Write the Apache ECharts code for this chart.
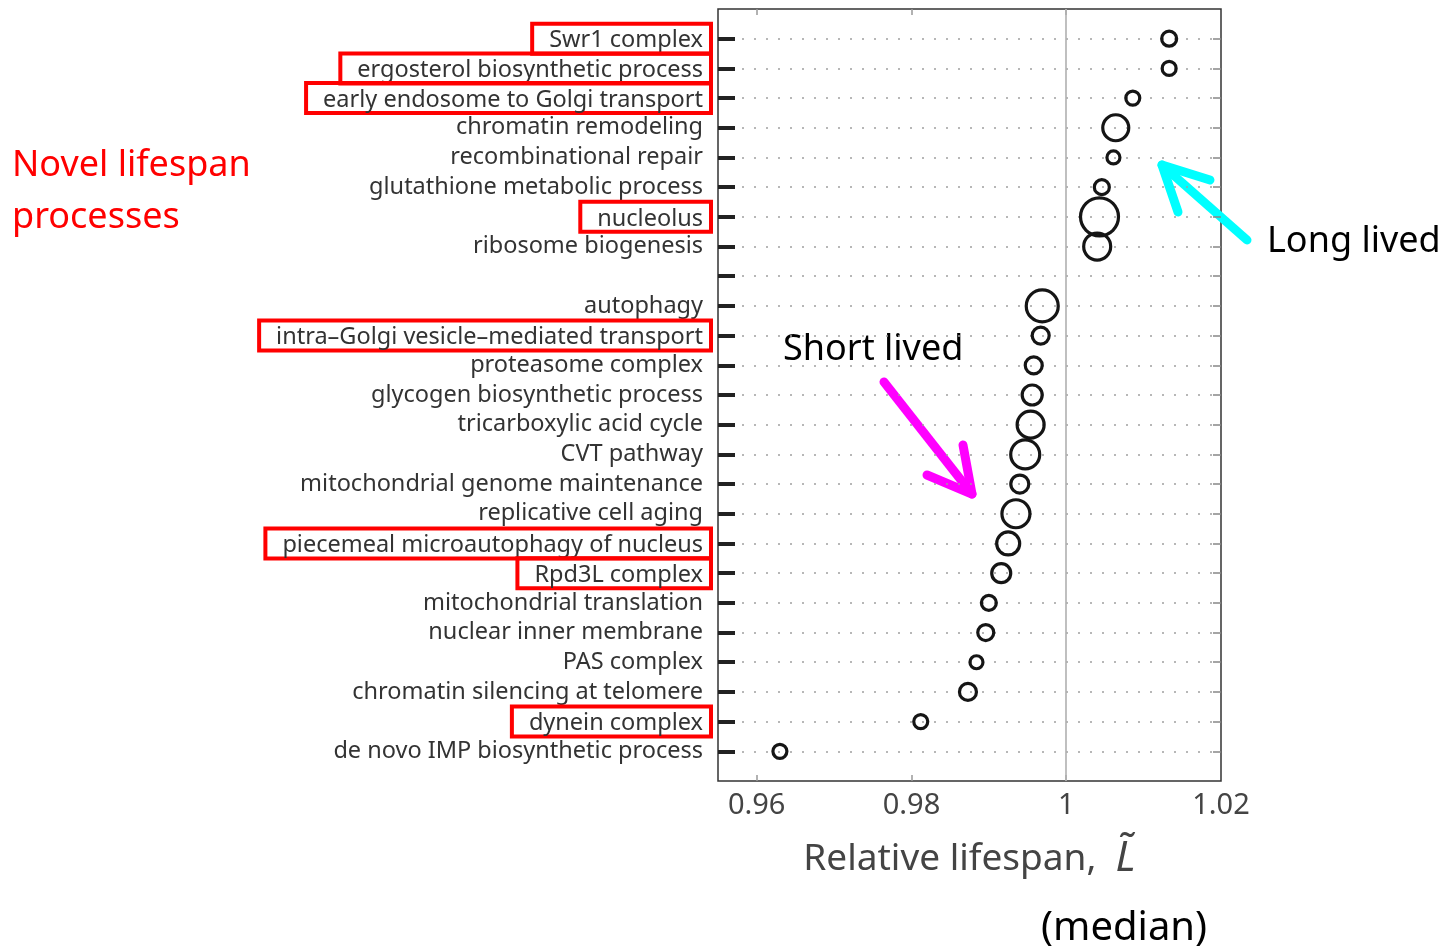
<!DOCTYPE html>
<html>
<head>
<meta charset="utf-8">
<script src="https://cdn.jsdelivr.net/npm/echarts@6/dist/echarts.min.js"></script>
<style>
html,body{margin:0;padding:0;background:#fff;}
#chart{width:1445px;height:948px;}
</style>
</head>
<body>
<div id="chart"></div>
<script>
// ---- data ----
var categories = [
  'Swr1 complex',
  'ergosterol biosynthetic process',
  'early endosome to Golgi transport',
  'chromatin remodeling',
  'recombinational repair',
  'glutathione metabolic process',
  'nucleolus',
  'ribosome biogenesis',
  'autophagy',
  'intra\u2013Golgi vesicle\u2013mediated transport',
  'proteasome complex',
  'glycogen biosynthetic process',
  'tricarboxylic acid cycle',
  'CVT pathway',
  'mitochondrial genome maintenance',
  'replicative cell aging',
  'piecemeal microautophagy of nucleus',
  'Rpd3L complex',
  'mitochondrial translation',
  'nuclear inner membrane',
  'PAS complex',
  'chromatin silencing at telomere',
  'dynein complex',
  'de novo IMP biosynthetic process'
];
// relative lifespan (median)
var lifespan = [
  1.0133, 1.0133, 1.0086, 1.0064, 1.0061, 1.0046, 1.0043, 1.0040,
  0.9969, 0.9967, 0.9958, 0.9956, 0.9954, 0.9947, 0.9940, 0.9935,
  0.9925, 0.9916, 0.9900, 0.9896, 0.9884, 0.9873, 0.9812, 0.9630
];
// bubble magnitude (marker diameter)
var bubbleSize = [
  15, 14, 14, 26, 13, 15, 38, 27,
  32, 17, 17, 20, 27, 29, 18, 28,
  23, 19, 15, 16, 13, 17, 14, 14
];
var groupA = 8; // long-lived group count (first 8), then a gap row
var novel = ['Swr1 complex','ergosterol biosynthetic process','early endosome to Golgi transport',
  'nucleolus','intra\u2013Golgi vesicle\u2013mediated transport','piecemeal microautophagy of nucleus',
  'Rpd3L complex','dynein complex'];
var xTicks = [0.96, 0.98, 1, 1.02];

// ---- build axis categories: blank at top, gap, blank at bottom ----
var axisCats = [''];
for (var i = 0; i < categories.length; i++) {
  if (i === groupA) axisCats.push(' ');
  axisCats.push(categories[i]);
}
axisCats.push('  ');
var lastIdx = axisCats.length - 1;

var scatterData = categories.map(function (c, i) {
  return [lifespan[i], c, bubbleSize[i]];
});

var FONT = '"Noto Sans", "Open Sans", sans-serif';
var chart = echarts.init(document.getElementById('chart'), null, {renderer: 'canvas'});

function arrow(points, head, color) {
  return [
    {type: 'polyline', shape: {points: points}, style: {stroke: color, lineWidth: 9, lineCap: 'round', lineJoin: 'round', fill: null}, silent: true},
    {type: 'polyline', shape: {points: head}, style: {stroke: color, lineWidth: 9, lineCap: 'round', lineJoin: 'round', fill: null}, silent: true}
  ];
}

var option = {
  animation: false,
  backgroundColor: '#fff',
  grid: {
    left: 718, top: 9, right: 224, bottom: 167,
    show: true, borderColor: '#333', borderWidth: 1.5,
    containLabel: false, outerBoundsMode: 'none'
  },
  xAxis: [{
    type: 'value', position: 'bottom',
    min: 0.955, max: 1.02,
    axisLine: {show: false},
    splitLine: {show: false},
    axisTick: {show: true, inside: true, length: 6, customValues: [0.96, 0.98, 1], lineStyle: {color: '#999', width: 1.5}},
    axisLabel: {show: true, customValues: xTicks, margin: 10, fontSize: 29, color: '#444', fontFamily: FONT,
      formatter: function (v) { return String(+v.toFixed(2)); }},
    name: 'Relative lifespan,  {i|L\u0303}',
    nameLocation: 'middle', nameGap: 57,
    nameTextStyle: {fontSize: 37, color: '#444', fontFamily: FONT,
      rich: {i: {fontSize: 42, fontStyle: 'italic', color: '#444', fontFamily: FONT}}}
  }, {
    type: 'value', position: 'top',
    min: 0.955, max: 1.02,
    axisLine: {show: false}, splitLine: {show: false},
    axisTick: {show: true, inside: true, length: 6, customValues: [0.96, 0.98, 1], lineStyle: {color: '#999', width: 1.5}},
    axisLabel: {show: false}
  }],
  yAxis: [{
    type: 'category', inverse: true, boundaryGap: false,
    data: axisCats, position: 'left',
    axisLine: {show: false},
    axisTick: {show: true, inside: true, length: 17, interval: function (i) { return i > 0 && i < lastIdx; },
      lineStyle: {color: '#222', width: 4}},
    splitLine: {show: true, interval: function (i) { return i > 0 && i < lastIdx; },
      lineStyle: {color: '#a0a0a0', width: 1.6, type: [2, 10]}},
    axisLabel: {
      interval: 0, margin: 7,
      formatter: function (v) {
        if (!v.trim()) return '';
        return (novel.indexOf(v) >= 0 ? '{b|' : '{p|') + v + '}';
      },
      rich: {
        p: {fontSize: 23.5, color: '#333', fontFamily: FONT, lineHeight: 24, padding: [0, 8, 0, 0]},
        b: {fontSize: 23.5, color: '#333', fontFamily: FONT, lineHeight: 24, padding: [5, 8, 1, 17],
            borderColor: '#ff0000', borderWidth: 4}
      }
    }
  }, {
    type: 'category', inverse: true, boundaryGap: false,
    data: axisCats, position: 'right',
    axisLine: {show: false},
    axisTick: {show: true, inside: true, length: 8, interval: function (i) { return i > 0 && i < lastIdx; },
      lineStyle: {color: '#888', width: 1.5}},
    splitLine: {show: false},
    axisLabel: {show: false}
  }],
  series: [{
    type: 'scatter',
    xAxisIndex: 0, yAxisIndex: 0,
    data: scatterData,
    symbol: 'circle',
    symbolSize: function (d) { return d[2]; },
    itemStyle: {color: 'rgba(0,0,0,0)', borderColor: '#151515', borderWidth: 3.2, opacity: 1},
    silent: true,
    markLine: {
      silent: true, symbol: 'none',
      label: {show: false},
      lineStyle: {color: '#b0b0b0', width: 1.6, type: 'solid'},
      data: [{xAxis: 1}]
    },
    z: 5
  }],
  graphic: [
    {type: 'text', left: 12, top: 148, style: {text: 'Novel lifespan', fill: '#ff0000', font: '36px ' + FONT}},
    {type: 'text', left: 12, top: 200, style: {text: 'processes', fill: '#ff0000', font: '36px ' + FONT}},
    {type: 'text', left: 1267, top: 224, style: {text: 'Long lived', fill: '#000', font: '36px ' + FONT}},
    {type: 'text', left: 783, top: 332, style: {text: 'Short lived', fill: '#000', font: '36px ' + FONT}},
    {type: 'text', left: 1041, top: 909, style: {text: '(median)', fill: '#000', font: '40px ' + FONT}}
  ]
  .concat(arrow([[1247, 240], [1162, 165]], [[1178, 212], [1162, 165], [1210, 180]], '#00ffff'))
  .concat(arrow([[884, 382], [972, 494]], [[927, 475], [972, 494], [963, 445]], '#ff00ff'))
};
chart.setOption(option);
</script>
</body>
</html>
